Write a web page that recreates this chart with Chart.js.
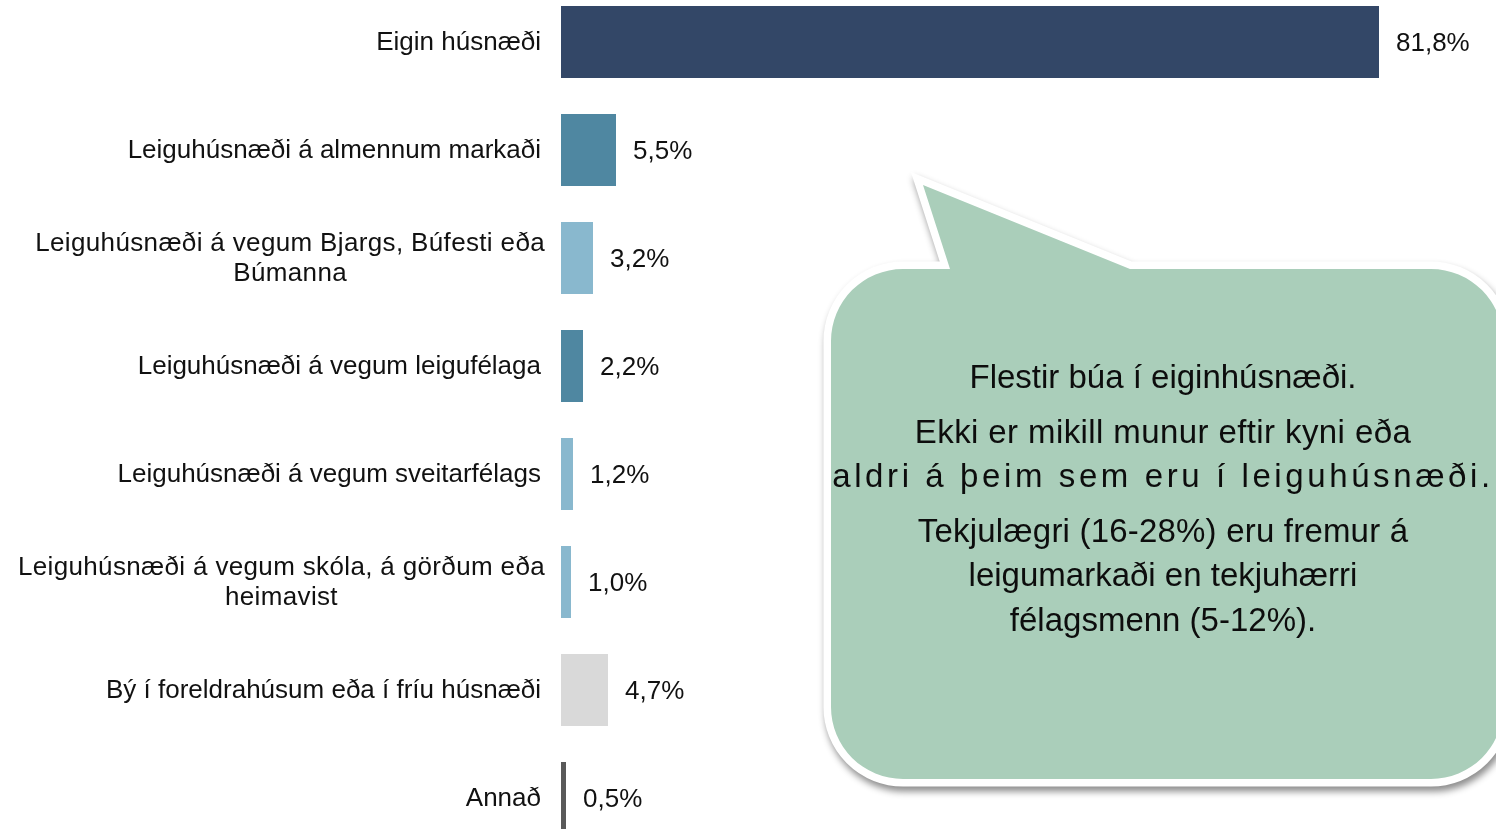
<!DOCTYPE html>
<html>
<head>
<meta charset="utf-8">
<script src="https://cdn.jsdelivr.net/npm/chart.js@4.4.1/dist/chart.umd.min.js"></script>
<style>
  html, body { margin: 0; padding: 0; background: #ffffff; overflow: hidden; width: 1496px; height: 829px; }
  #wrap { position: absolute; left: 0; top: -12px; width: 1496px; height: 864px; }
</style>
</head>
<body>
<div id="wrap"><canvas id="c"></canvas></div>
<script>
// ---- data ----
const categories = [
  "Eigin húsnæði",
  "Leiguhúsnæði á almennum markaði",
  ["Leiguhúsnæði á vegum Bjargs, Búfesti eða", "Búmanna"],
  "Leiguhúsnæði á vegum leigufélaga",
  "Leiguhúsnæði á vegum sveitarfélags",
  ["Leiguhúsnæði á vegum skóla, á görðum eða", "heimavist"],
  "Bý í foreldrahúsum eða í fríu húsnæði",
  "Annað"
];
const values = [81.8, 5.5, 3.2, 2.2, 1.2, 1.0, 4.7, 0.5];
const barColors = ["#334767", "#4F87A1", "#89B8CE", "#4F87A1", "#89B8CE", "#89B8CE", "#D9D9D9", "#595959"];
const calloutLines = [
  "Flestir búa í eiginhúsnæði.",
  "Ekki er mikill munur eftir kyni eða",
  "aldri á þeim sem eru í leiguhúsnæði.",
  "Tekjulægri (16-28%) eru fremur á",
  "leigumarkaði en tekjuhærri",
  "félagsmenn (5-12%)."
];

const FONT = "'Liberation Sans', Arial, sans-serif";
const PAGE_OFFSET = 12; // canvas is shifted up by this much

function fmt(v) { return v.toFixed(1).replace('.', ',') + '%'; }

const yLabelPlugin = {
  id: 'yLabels',
  afterDraw(chart) {
    const ctx = chart.ctx;
    const scale = chart.scales.y;
    ctx.save();
    ctx.font = '26px ' + FONT;
    ctx.fillStyle = '#111111';
    ctx.textBaseline = 'middle';
    ctx.textAlign = 'center';
    const lh = 30;
    categories.forEach((lab, i) => {
      const lines = Array.isArray(lab) ? lab : [lab];
      const multi = lines.length > 1;
      ctx.letterSpacing = multi ? '0.35px' : '0px';
      const right = scale.right - (multi ? 16 : 20);
      const y = scale.getPixelForTick(i);
      let w = 0;
      lines.forEach(l => { w = Math.max(w, ctx.measureText(l).width); });
      const cx = right - w / 2;
      lines.forEach((l, k) => {
        ctx.fillText(l, cx, y - (lines.length - 1) * lh / 2 + k * lh + 1);
      });
    });
    ctx.restore();
  }
};

const valueLabelPlugin = {
  id: 'valueLabels',
  afterDatasetsDraw(chart) {
    const ctx = chart.ctx;
    const meta = chart.getDatasetMeta(0);
    ctx.save();
    ctx.font = '26px ' + FONT;
    ctx.fillStyle = '#111111';
    ctx.textBaseline = 'middle';
    ctx.textAlign = 'left';
    meta.data.forEach((bar, i) => {
      ctx.fillText(fmt(values[i]), bar.x + 17, bar.y + 2);
    });
    ctx.restore();
  }
};

const calloutPlugin = {
  id: 'callout',
  afterDraw(chart) {
    const ctx = chart.ctx;
    ctx.save();
    ctx.translate(0, PAGE_OFFSET);
    const x0 = 831, y0 = 269, x1 = 1503, y1 = 779, r = 72;
    const tipX = 923, tipY = 185, baseL = 950, baseR = 1130;
    function path() {
      ctx.beginPath();
      ctx.moveTo(x0 + r, y0);
      ctx.lineTo(baseL, y0);
      ctx.lineTo(tipX, tipY);
      ctx.lineTo(baseR, y0);
      ctx.lineTo(x1 - r, y0);
      ctx.arcTo(x1, y0, x1, y0 + r, r);
      ctx.lineTo(x1, y1 - r);
      ctx.arcTo(x1, y1, x1 - r, y1, r);
      ctx.lineTo(x0 + r, y1);
      ctx.arcTo(x0, y1, x0, y1 - r, r);
      ctx.lineTo(x0, y0 + r);
      ctx.arcTo(x0, y0, x0 + r, y0, r);
      ctx.closePath();
    }
    // white border with shadow
    path();
    ctx.shadowColor = 'rgba(0,0,0,0.45)';
    ctx.shadowBlur = 7;
    ctx.shadowOffsetX = 2;
    ctx.shadowOffsetY = 5;
    ctx.lineWidth = 15;
    ctx.lineJoin = 'miter';
    ctx.strokeStyle = '#ffffff';
    ctx.stroke();
    ctx.shadowColor = 'rgba(0,0,0,0)';
    ctx.shadowBlur = 0; ctx.shadowOffsetX = 0; ctx.shadowOffsetY = 0;
    path();
    ctx.fillStyle = '#AACEBA';
    ctx.fill();
    // text
    ctx.font = '33px ' + FONT;
    ctx.fillStyle = '#0d0d0d';
    ctx.textAlign = 'center';
    ctx.textBaseline = 'middle';
    const ys = [379, 434, 478, 533, 577, 622];
    const spacing = ['0px', '0.4px', '3.6px', '0.2px', '0px', '0px'];
    calloutLines.forEach((t, i) => {
      ctx.letterSpacing = spacing[i];
      ctx.fillText(t, 1163, ys[i]);
    });
    ctx.restore();
  }
};

new Chart(document.getElementById('c'), {
  type: 'bar',
  data: {
    labels: categories,
    datasets: [{
      data: values,
      backgroundColor: barColors,
      borderWidth: 0,
      categoryPercentage: 1.0,
      barPercentage: 0.667
    }]
  },
  options: {
    indexAxis: 'y',
    responsive: true,
    maintainAspectRatio: false,
    animation: false,
    layout: { padding: { left: 0, right: 35, top: 0, bottom: 0 } },
    plugins: { legend: { display: false }, tooltip: { enabled: false }, title: { display: false } },
    scales: {
      x: { display: false, min: 0, max: 90 },
      y: {
        display: true,
        grid: { display: false, drawTicks: false },
        border: { display: false },
        ticks: { display: false },
        afterFit(scale) { scale.width = 561; }
      }
    }
  },
  plugins: [yLabelPlugin, valueLabelPlugin, calloutPlugin]
});
</script>
</body>
</html>
